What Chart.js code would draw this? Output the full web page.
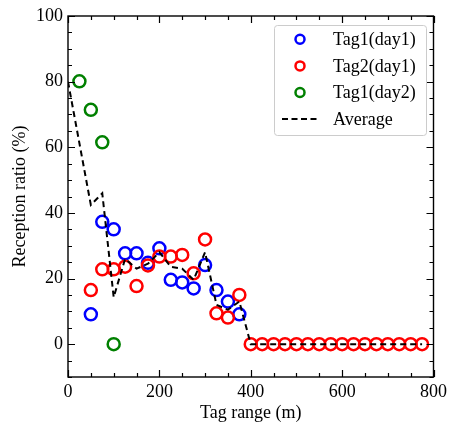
<!DOCTYPE html>
<html>
<head>
<meta charset="utf-8">
<script src="https://cdn.jsdelivr.net/npm/chart.js@4/dist/chart.umd.min.js"></script>
<style>
  html, body { margin: 0; padding: 0; background: #fff; }
  #wrap { width: 451px; height: 430px; }
</style>
</head>
<body>
<div id="wrap"><canvas id="chart" width="451" height="430"></canvas></div>
<script>
// Reception ratio vs tag range
const tag1Day1X = [50, 75, 100, 125, 150, 175, 200, 225, 250, 275, 300, 325, 350, 375];
const tag1Day1 = [9.1, 37.3, 35, 27.7, 27.7, 24.8, 29.2, 19.6, 18.8, 17, 24.1, 16.5, 13, 9.1];

const tag2Day1X = [50, 75, 100, 125, 150, 175, 200, 225, 250, 275, 300, 325, 350, 375,
    400, 425, 450, 475, 500, 525, 550, 575, 600, 625, 650, 675, 700, 725, 750, 775];
const tag2Day1 = [16.5, 22.8, 22.8, 23.6, 17.7, 24, 26.7, 26.7, 27.2, 21.6, 31.9, 9.4, 8.1, 15,
    0, 0, 0, 0, 0, 0, 0, 0, 0, 0, 0, 0, 0, 0, 0, 0];

const tag1Day2X = [25, 50, 75, 100];
const tag1Day2 = [80.1, 71.4, 61.5, 0];

const averageX = [0, 50, 75, 100, 125, 150, 175, 200, 225, 250, 275, 300, 325, 350, 375,
    400, 425, 450, 475, 500, 525, 550, 575, 600, 625, 650, 675, 700, 725, 750, 775];
const average = [80, 42.4, 46, 14.3, 26, 23, 24.5, 28, 23.6, 23, 19.6, 28, 12, 10.5, 13,
    0, 0, 0, 0, 0, 0, 0, 0, 0, 0, 0, 0, 0, 0, 0, 0];

const seriesLabels = ['Tag1(day1)', 'Tag2(day1)', 'Tag1(day2)', 'Average'];
const xTicks = [0, 200, 400, 600, 800];
const yTicks = [0, 20, 40, 60, 80, 100];
const xMinorStep = 50;
const yMinorStep = 5;

const FONT = 'Liberation Serif';

function toPoints(xs, ys) {
    return xs.map((x, i) => ({ x: x, y: ys[i] }));
}

function circleSet(label, xs, ys, color, order) {
    return {
        label: label,
        data: toPoints(xs, ys),
        pointStyle: 'circle',
        pointRadius: 6,
        pointHoverRadius: 6,
        pointBorderWidth: 2.5,
        borderColor: color,
        backgroundColor: 'rgba(0,0,0,0)',
        pointBackgroundColor: 'rgba(0,0,0,0)',
        showLine: false,
        order: order
    };
}

// inward ticks on all four sides + frame
const frameTicks = {
    id: 'frameTicks',
    afterDatasetsDraw(chart) {
        const { ctx, chartArea: a, scales: { x, y } } = chart;
        ctx.save();
        ctx.strokeStyle = '#000';
        ctx.lineWidth = 1.2;
        ctx.beginPath();
        for (let v = xTicks[0]; v <= xTicks[xTicks.length - 1]; v += xMinorStep) {
            const len = xTicks.includes(v) ? 7 : 4;
            const px = Math.round(x.getPixelForValue(v)) + 0.5;
            ctx.moveTo(px, a.bottom); ctx.lineTo(px, a.bottom - len);
            ctx.moveTo(px, a.top); ctx.lineTo(px, a.top + len);
        }
        for (let v = y.min; v <= y.max; v += yMinorStep) {
            const len = yTicks.includes(v) ? 7 : 4;
            const py = Math.round(y.getPixelForValue(v)) + 0.5;
            ctx.moveTo(a.left, py); ctx.lineTo(a.left + len, py);
            ctx.moveTo(a.right, py); ctx.lineTo(a.right - len, py);
        }
        ctx.stroke();
        ctx.lineWidth = 1.4;
        ctx.strokeRect(a.left, a.top, a.right - a.left, a.bottom - a.top);
        ctx.restore();
    }
};

// legend box in the upper right, matplotlib style
const boxLegend = {
    id: 'boxLegend',
    afterDraw(chart) {
        const { ctx } = chart;
        const box = { x: 274, y: 25, w: 152, h: 110 };
        ctx.save();
        ctx.fillStyle = 'rgba(255,255,255,0.85)';
        ctx.strokeStyle = '#cccccc';
        ctx.lineWidth = 1;
        ctx.beginPath();
        ctx.roundRect(box.x + 0.5, box.y + 0.5, box.w, box.h, 3);
        ctx.fill();
        ctx.stroke();

        const rowH = 26.6;
        chart.data.datasets.forEach((ds, i) => {
            const cy = 39.3 + i * rowH;
            if (ds.showLine) {
                ctx.strokeStyle = ds.borderColor;
                ctx.lineWidth = 2;
                ctx.setLineDash([6, 3.5]);
                ctx.beginPath();
                ctx.moveTo(282, cy);
                ctx.lineTo(318, cy);
                ctx.stroke();
                ctx.setLineDash([]);
            } else {
                ctx.strokeStyle = ds.borderColor;
                ctx.lineWidth = 2.5;
                ctx.beginPath();
                ctx.arc(300, cy, 4.5, 0, Math.PI * 2);
                ctx.stroke();
            }
            ctx.fillStyle = '#000';
            ctx.font = '18px "' + FONT + '"';
            ctx.textBaseline = 'middle';
            ctx.textAlign = 'left';
            ctx.fillText(ds.label, 333, cy + 1);
        });
        ctx.restore();
    }
};

const ctx = document.getElementById('chart').getContext('2d');
const chart = new Chart(ctx, {
    type: 'scatter',
    data: {
        datasets: [
            circleSet(seriesLabels[0], tag1Day1X, tag1Day1, '#0000ff', 4),
            circleSet(seriesLabels[1], tag2Day1X, tag2Day1, '#ff0000', 3),
            circleSet(seriesLabels[2], tag1Day2X, tag1Day2, '#008000', 2),
            {
                label: seriesLabels[3],
                data: toPoints(averageX, average),
                showLine: true,
                borderColor: '#000',
                borderWidth: 2,
                borderDash: [6, 4],
                pointRadius: 0,
                pointHoverRadius: 0,
                fill: false,
                tension: 0,
                order: 1
            }
        ]
    },
    options: {
        responsive: false,
        animation: false,
        events: [],
        layout: { padding: { left: 8, right: 15, top: 16, bottom: 6 } },
        plugins: {
            legend: { display: false },
            tooltip: { enabled: false }
        },
        scales: {
            x: {
                type: 'linear',
                min: 0,
                max: 800,
                afterBuildTicks: s => { s.ticks = xTicks.map(v => ({ value: v })); },
                afterFit: s => { s.height = 47; },
                grid: { display: false, drawTicks: false },
                border: { display: false },
                ticks: {
                    color: '#000',
                    padding: 4,
                    maxRotation: 0,
                    font: { family: FONT, size: 18 }
                },
                title: {
                    display: true,
                    text: 'Tag range (m)',
                    color: '#000',
                    padding: { top: 0, bottom: 0 },
                    font: { family: FONT, size: 18 }
                }
            },
            y: {
                type: 'linear',
                min: -10,
                max: 100,
                afterBuildTicks: s => { s.ticks = yTicks.map(v => ({ value: v })); },
                afterFit: s => { s.width = 60; },
                grid: { display: false, drawTicks: false },
                border: { display: false },
                ticks: {
                    color: '#000',
                    padding: 5,
                    font: { family: FONT, size: 18 }
                },
                title: {
                    display: true,
                    text: 'Reception ratio (%)',
                    color: '#000',
                    padding: { top: 1, bottom: 0 },
                    font: { family: FONT, size: 18 }
                }
            }
        }
    },
    plugins: [frameTicks, boxLegend]
});
</script>
</body>
</html>
